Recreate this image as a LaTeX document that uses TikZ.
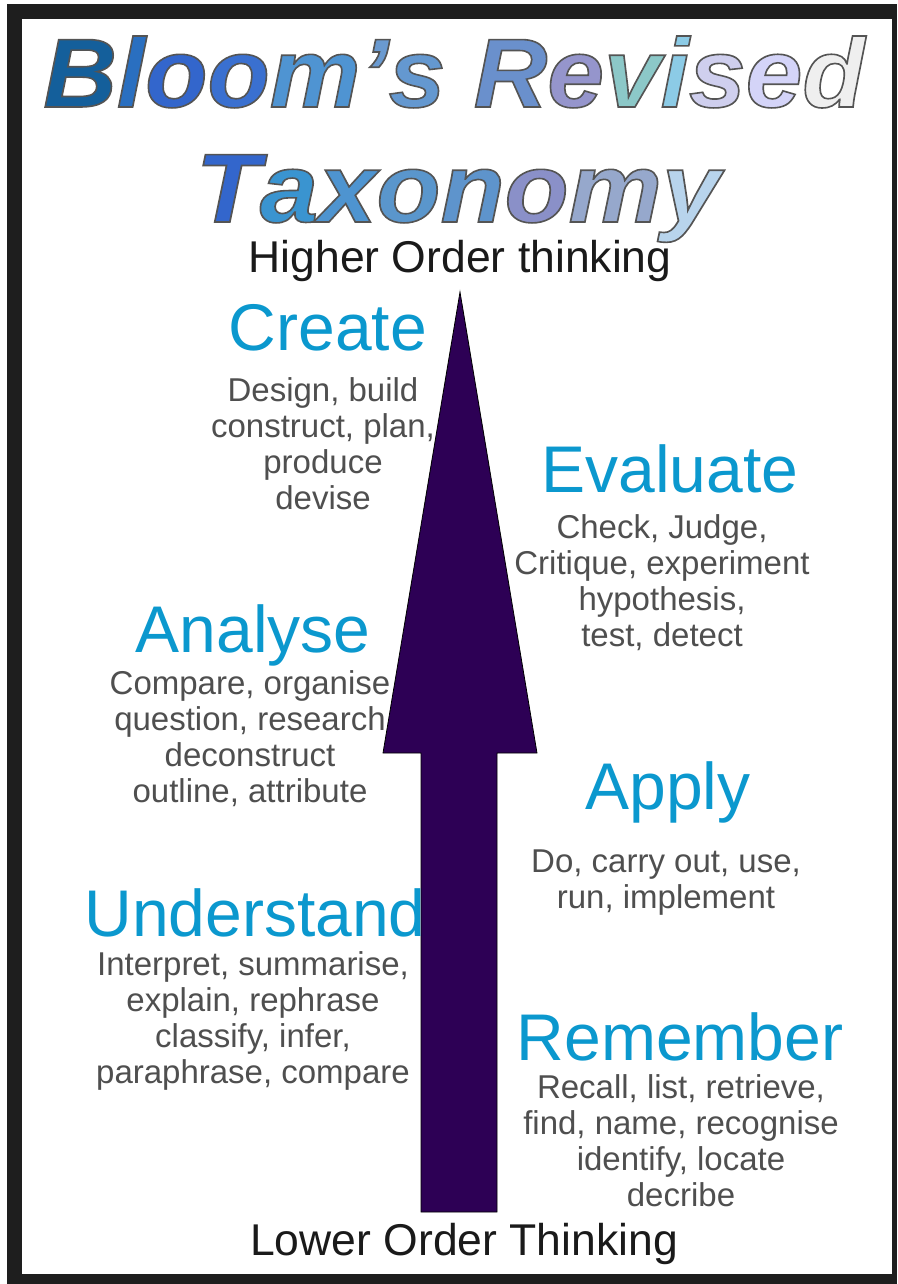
\documentclass[tikz,border=0pt]{standalone}
\usepackage{fontspec}
\setmainfont{Liberation Sans}
\usepackage{graphicx}
\definecolor{framedark}{HTML}{1E1E1E}
\definecolor{arrowfill}{HTML}{2D0055}
\definecolor{headblue}{HTML}{0B98CE}
\definecolor{bodygray}{HTML}{4F4F4F}
\definecolor{ordertext}{HTML}{1A1A1A}
\newcommand\tlet[2]{\textcolor[HTML]{#1}{\special{pdf:literal direct 0.33 0.33 0.33 RG 1.6 w 2 Tr}#2\special{pdf:literal direct 0 Tr}}}
\begin{document}
\begin{tikzpicture}[x=1pt,y=-1pt,
  head/.style={text=headblue, font=\fontsize{66}{66}\selectfont, inner sep=0pt, anchor=base},
  body/.style={text=bodygray, font=\fontsize{33}{36}\selectfont, inner sep=0pt, anchor=base, align=center},
  order/.style={text=ordertext, font=\fontsize{44.5}{44.5}\selectfont, inner sep=0pt, anchor=base},
  titletext/.style={font=\fontsize{98}{98}\selectfont\bfseries\itshape, inner sep=0pt, anchor=base}]
\useasboundingbox (0,0) rectangle (897,1284);
\fill[framedark] (7,4) rectangle (897,1284);
\fill[white] (22,19) rectangle (892,1274);
% arrow
\filldraw[fill=arrowfill, draw=black, line width=0.8pt, line join=miter]
  (460,292) -- (537,753) -- (497,753) -- (497,1212) -- (421,1212) -- (421,753) -- (383,753) -- cycle;
% title
\node[titletext] (t1) at (454,107) {\scalebox{1.04}[1]{\tlet{145F9B}{B}\tlet{2A6FC0}{l}\tlet{3366CC}{o}\tlet{3A70D0}{o}\tlet{4F94D2}{m}\tlet{6A9AD0}{'}\tlet{6498D0}{s} \tlet{6A90CC}{R}\tlet{9595CC}{e}\tlet{8CC8C8}{v}\tlet{8CCBE6}{i}\tlet{CFCFEE}{s}\tlet{D4D4F8}{e}\tlet{EFEFEF}{d}}};
\node[titletext] (t2) at (458,222) {\scalebox{1.07}[1]{\tlet{3366CC}{T}\tlet{3A94D0}{a}\tlet{4E94D0}{x}\tlet{5A96CC}{o}\tlet{5E94CC}{n}\tlet{8A90C8}{o}\tlet{96A8CC}{m}\tlet{B8D4EC}{y}}};
\node[order] (hot) at (460,272) {Higher Order thinking};
\node[order] (lot) at (464,1255) {Lower Order Thinking};
% levels (base anchor = baseline of last line)
\node[head, text depth=0pt] (create) at (328,350) {Create};
\node[body] (createb) at (323,509) {Design, build\\construct, plan,\\produce\\devise};
\node[head, text depth=0pt] (evaluate) at (670,492) {Evaluate};
\node[body] (evaluateb) at (662,646) {Check, Judge,\\Critique, experiment\\hypothesis,\\test, detect};
\node[head] (analyse) at (253,652) {Analyse};
\node[body] (analyseb) at (250,802) {Compare, organise\\question, research\\deconstruct\\outline, attribute};
\node[head] (apply) at (668,809) {Apply};
\node[body] (applyb) at (666,908) {Do, carry out, use,\\run, implement};
\node[head, text depth=0pt] (understand) at (255,936) {Understand};
\node[body] (understandb) at (253,1083) {Interpret, summarise,\\explain, rephrase\\classify, infer,\\paraphrase, compare};
\node[head, text depth=0pt] (remember) at (680,1060) {Remember};
\node[body] (rememberb) at (681,1206) {Recall, list, retrieve,\\find, name, recognise\\identify, locate\\decribe};
\end{tikzpicture}
\end{document}
